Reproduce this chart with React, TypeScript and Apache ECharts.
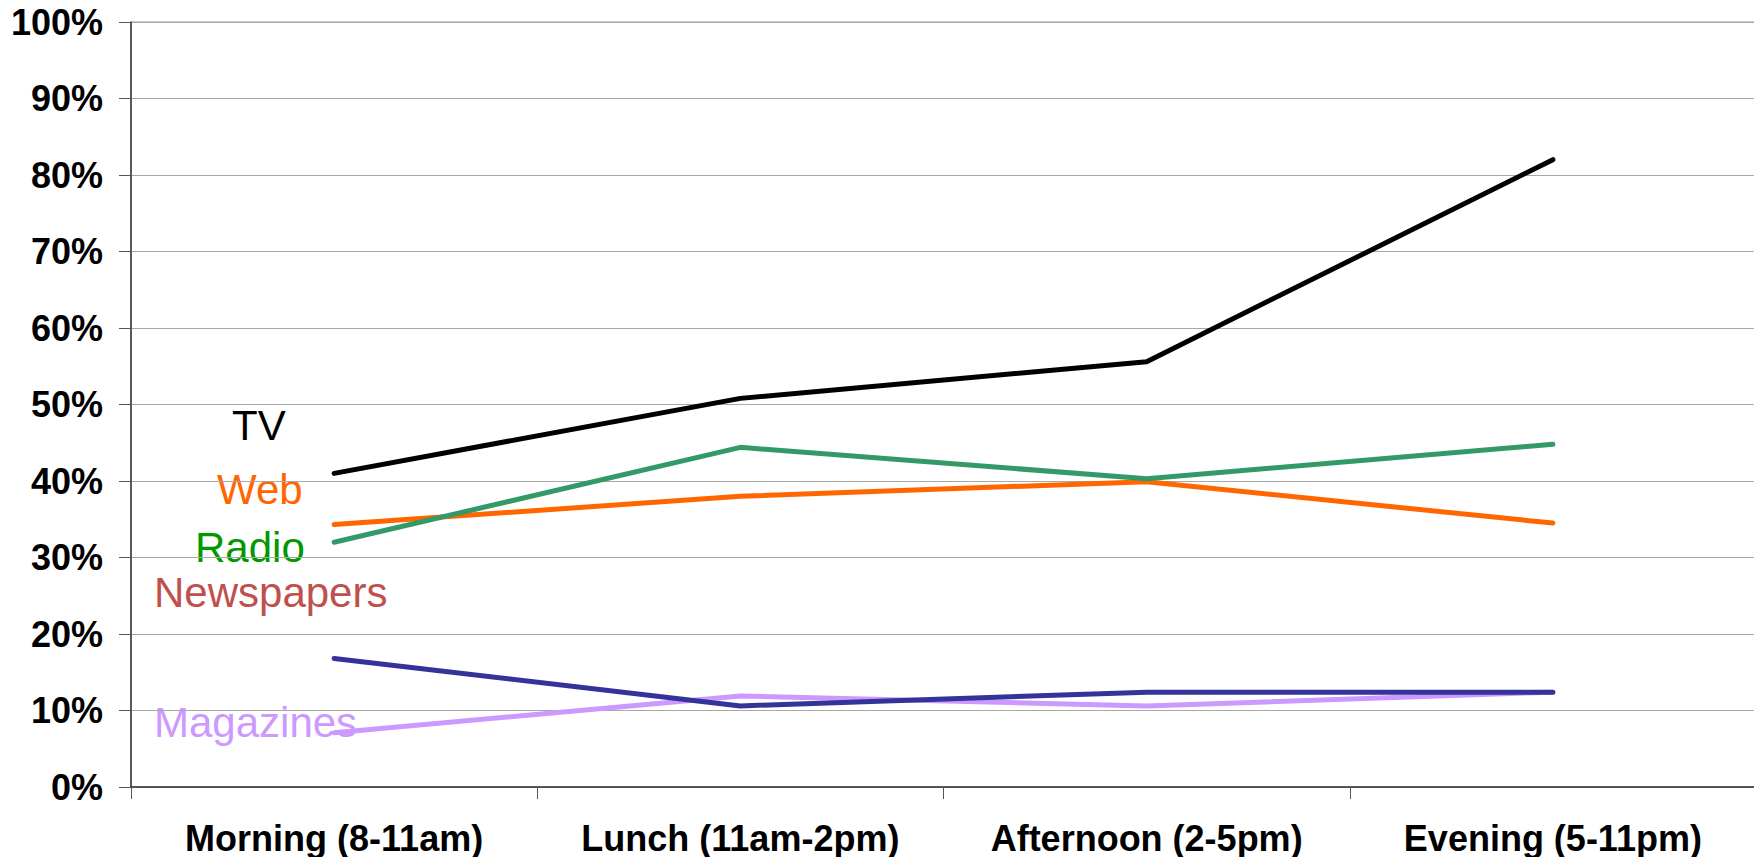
import React, { useEffect, useRef } from "react";
import * as echarts from "echarts";

const categories = ["Morning (8-11am)", "Lunch (11am-2pm)", "Afternoon (2-5pm)", "Evening (5-11pm)"];
const tvValues = [41.0, 50.8, 55.6, 82.0];
const radioValues = [32.0, 44.4, 40.3, 44.8];
const webValues = [34.3, 38.0, 39.9, 34.5];
const newspaperValues = [16.8, 10.6, 12.4, 12.4];
const magazineValues = [7.1, 11.9, 10.6, 12.4];
const yTicks = { min: 0, max: 100, interval: 10 };

const FONT = "'Liberation Sans', Arial, Helvetica, sans-serif";

export default function App() {
  const ref = useRef<HTMLDivElement>(null);
  useEffect(() => {
    if (!ref.current) return;
    const chart = echarts.init(ref.current, undefined, { renderer: "svg" });
    const mk = (name: string, data: number[], color: string) => ({
      name,
      type: "line",
      data,
      symbol: "none",
      lineStyle: { color, width: 5, cap: "round", join: "round" },
      itemStyle: { color },
    });
    const label = (text: string, x: number, y: number, color: string) => ({
      type: "text",
      left: x,
      top: y,
      style: { text, fill: color, font: `42px ${FONT}` },
    });
    chart.setOption({
      animation: false,
      backgroundColor: "#ffffff",
      grid: {
        left: 131,
        right: 6,
        top: 22,
        bottom: 78,
        show: true,
        borderColor: "#999999",
        borderWidth: 1,
      },
      xAxis: {
        type: "category",
        data: categories,
        boundaryGap: true,
        axisLine: { show: true, lineStyle: { color: "#333333", width: 1.5 } },
        axisTick: { show: true, interval: 0, length: 12, inside: false, lineStyle: { color: "#555555" } },
        axisLabel: {
          interval: 0,
          color: "#000000",
          fontFamily: FONT,
          fontWeight: "bold",
          fontSize: 36,
          margin: 33,
        },
        splitLine: { show: false },
      },
      yAxis: {
        type: "value",
        min: yTicks.min,
        max: yTicks.max,
        interval: yTicks.interval,
        axisLine: { show: true, lineStyle: { color: "#333333", width: 1.5 } },
        axisTick: { show: true, length: 12, lineStyle: { color: "#555555" } },
        axisLabel: {
          formatter: "{value}%",
          color: "#000000",
          fontFamily: FONT,
          fontWeight: "bold",
          fontSize: 36,
          margin: 28,
        },
        splitLine: { show: true, lineStyle: { color: "#a8a8a8", width: 1 } },
      },
      series: [
        mk("Magazines", magazineValues, "#cc99ff"),
        mk("Newspapers", newspaperValues, "#333399"),
        mk("Web", webValues, "#ff6600"),
        mk("Radio", radioValues, "#339966"),
        mk("TV", tvValues, "#000000"),
      ],
      graphic: [
        label("TV", 232, 404, "#000000"),
        label("Web", 217, 468, "#ff6600"),
        label("Radio", 195, 526, "#009900"),
        label("Newspapers", 154, 571, "#c0504d"),
        label("Magazines", 154, 701, "#cc99ff"),
      ],
    });
    return () => chart.dispose();
  }, []);
  return <div ref={ref} style={{ width: 1762, height: 865, margin: -8 }} />;
}
